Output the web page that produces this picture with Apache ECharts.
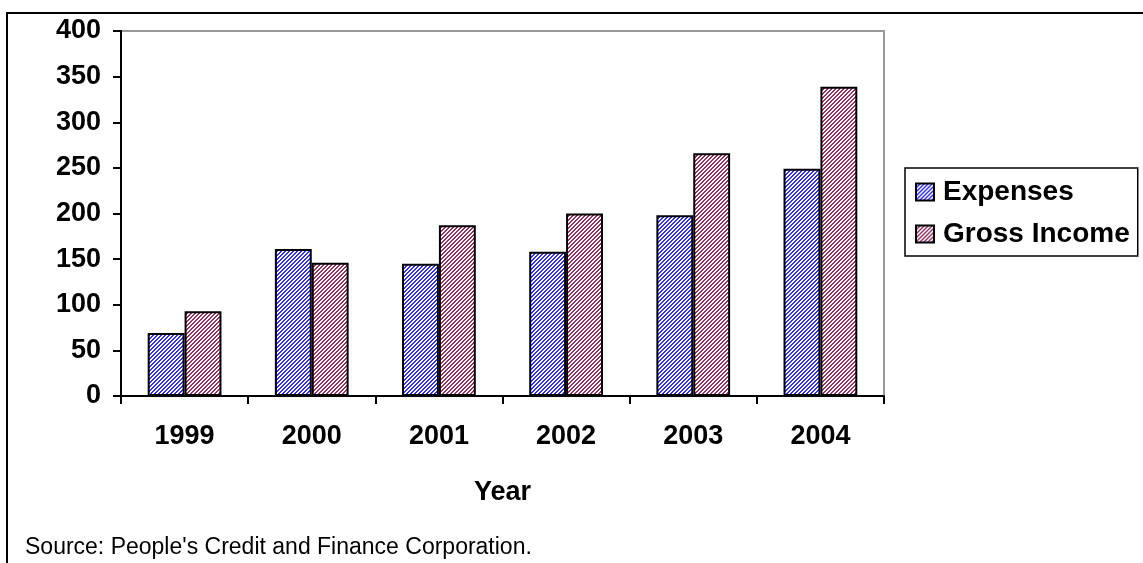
<!DOCTYPE html>
<html>
<head>
<meta charset="utf-8">
<script src="https://cdn.jsdelivr.net/npm/echarts@6/dist/echarts.min.js"></script>
<style>
  html, body { margin: 0; padding: 0; background: #fff; }
  #chart { width: 1143px; height: 563px; }
</style>
</head>
<body>
<div id="chart"></div>
<script>
const years = ['1999', '2000', '2001', '2002', '2003', '2004']
const expenses = [69, 161, 145, 158, 198, 249]
const grossIncome = [93, 146, 187, 200, 266, 339]
const yTicks = [0, 50, 100, 150, 200, 250, 300, 350, 400]

// small hatch tile used as bar fill
function hatch(color) {
  const c = document.createElement('canvas')
  c.width = 4
  c.height = 4
  const ctx = c.getContext('2d')
  ctx.fillStyle = '#ffffff'
  ctx.fillRect(0, 0, 4, 4)
  ctx.fillStyle = color
  for (let i = 0; i < 4; i++) {
    ctx.fillRect(i, (3 - i + 4) % 4, 1, 1)
    ctx.fillRect(i, (4 - i + 4) % 4, 1, 1)
  }
  return { image: c, repeat: 'repeat' }
}

const font = 'Liberation Sans, Arial, sans-serif'
const chart = echarts.init(document.getElementById('chart'))

chart.setOption({
  backgroundColor: '#ffffff',
  animation: false,
  grid: {
    left: 121,
    top: 31,
    right: 259,
    bottom: 167,
    show: true,
    borderColor: '#999999',
    borderWidth: 2
  },
  legend: {
    orient: 'vertical',
    left: 905,
    top: 168,
    padding: [10, 8, 8, 10],
    itemGap: 14,
    itemWidth: 18,
    itemHeight: 17,
    borderColor: '#000',
    borderWidth: 1.5,
    icon: 'rect',
    textStyle: { fontFamily: font, fontWeight: 'bold', fontSize: 28, color: '#000', padding: [0, 0, 0, 4] },
    data: ['Expenses', 'Gross Income']
  },
  xAxis: {
    type: 'category',
    data: years,
    name: 'Year',
    nameLocation: 'middle',
    nameGap: 83,
    nameTextStyle: { fontFamily: font, fontWeight: 'bold', fontSize: 27, color: '#000' },
    axisLine: { lineStyle: { color: '#000', width: 2 } },
    axisTick: { show: true, length: 8, lineStyle: { color: '#000', width: 2 } },
    axisLabel: { margin: 27, fontFamily: font, fontWeight: 'bold', fontSize: 27, color: '#000' }
  },
  yAxis: {
    type: 'value',
    min: yTicks[0],
    max: yTicks[yTicks.length - 1],
    interval: 50,
    axisLine: { show: true, lineStyle: { color: '#000', width: 2 } },
    axisTick: { show: true, length: 8, lineStyle: { color: '#000', width: 2 } },
    splitLine: { show: false },
    axisLabel: { margin: 20, fontFamily: font, fontWeight: 'bold', fontSize: 27, color: '#000' }
  },
  series: [
    {
      name: 'Expenses',
      type: 'bar',
      data: expenses,
      barGap: '0%',
      barCategoryGap: '42%',
      itemStyle: { color: hatch('#3030ff'), borderColor: '#000', borderWidth: 2 }
    },
    {
      name: 'Gross Income',
      type: 'bar',
      data: grossIncome,
      itemStyle: { color: hatch('#993366'), borderColor: '#000', borderWidth: 2 }
    }
  ],
  graphic: [
    {
      type: 'rect',
      shape: { x: 7, y: 13, width: 1300, height: 700 },
      style: { fill: 'none', stroke: '#000', lineWidth: 2 },
      silent: true
    },
    {
      type: 'text',
      left: 25,
      top: 536,
      style: { text: "Source: People's Credit and Finance Corporation.", font: '23px ' + font, fill: '#000' }
    }
  ]
})
</script>
</body>
</html>
